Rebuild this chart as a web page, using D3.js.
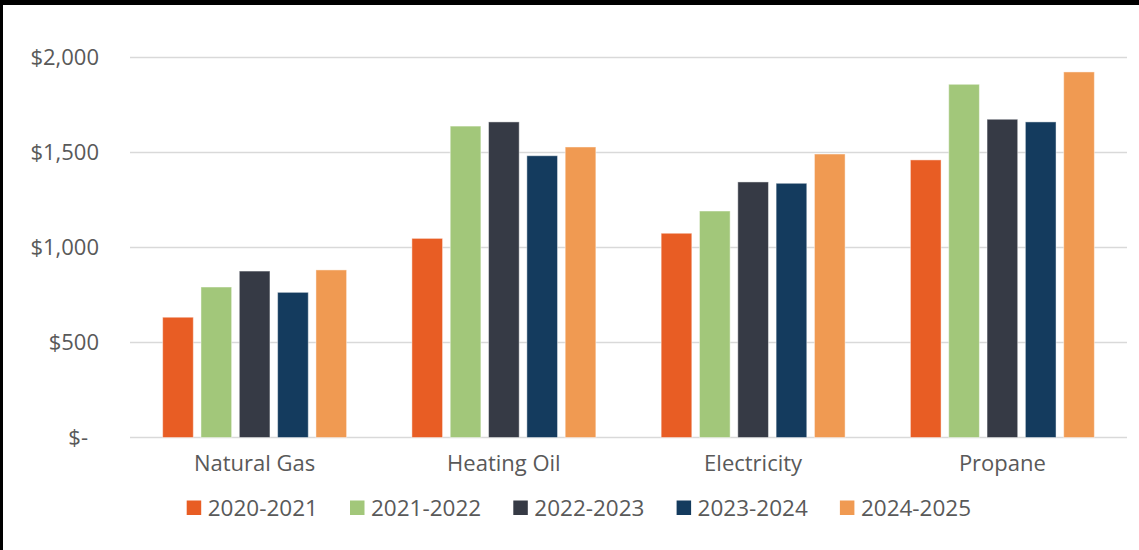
<!DOCTYPE html>
<html>
<head>
<meta charset="utf-8">
<script src="https://cdn.jsdelivr.net/npm/d3@7"></script>
<style>
  body { margin: 0; background: #fff; }
  svg { display: block; font-family: "Open Sans", sans-serif; }
</style>
</head>
<body>
<div id="chart"></div>
<script>
// data
const categories = ["Natural Gas", "Heating Oil", "Electricity", "Propane"];
const seasons = ["2020-2021", "2021-2022", "2022-2023", "2023-2024", "2024-2025"];
const colors = ["#E85D24", "#A2C77A", "#363A45", "#143B5E", "#F09A52"];
const s2020 = [633, 1048, 1075, 1461];
const s2021 = [792, 1639, 1192, 1859];
const s2022 = [876, 1661, 1345, 1675];
const s2023 = [764, 1483, 1338, 1661];
const s2024 = [882, 1529, 1492, 1924];
const yTicks = [0, 500, 1000, 1500, 2000];

const seriesValues = [s2020, s2021, s2022, s2023, s2024];

const width = 1139, height = 550;
const margin = { top: 57.5, right: 12, bottom: 112.5, left: 130 };
const plotW = width - margin.left - margin.right;
const plotH = height - margin.top - margin.bottom;

const svg = d3.select("#chart").append("svg")
    .attr("width", width)
    .attr("height", height);

// frame (top band + left edge)
svg.append("rect").attr("x", 0).attr("y", 0).attr("width", width).attr("height", 5).attr("fill", "#000");
svg.append("rect").attr("x", 0).attr("y", 0).attr("width", 3).attr("height", height).attr("fill", "#000");

const g = svg.append("g").attr("transform", `translate(${margin.left},${margin.top})`);

const x0 = d3.scaleBand().domain(categories).range([0, plotW]).paddingInner(0.262).paddingOuter(0.131);
const x1 = d3.scaleBand().domain(seasons).range([0, x0.bandwidth()]).paddingInner(0.2);
const y = d3.scaleLinear().domain([0, 2000]).range([plotH, 0]);

// gridlines
g.append("g").selectAll("line")
    .data(yTicks)
    .enter().append("line")
    .attr("x1", 0).attr("x2", plotW)
    .attr("y1", d => y(d)).attr("y2", d => y(d))
    .attr("stroke", "#d9d9d9")
    .attr("stroke-width", 1.5);

// y labels
const fmt = d => d === 0 ? "$-" : "$" + d3.format(",")(d);
g.append("g").selectAll("text")
    .data(yTicks)
    .enter().append("text")
    .attr("x", d => d === 0 ? -42 : -31)
    .attr("y", d => y(d))
    .attr("dy", "0.35em")
    .attr("text-anchor", "end")
    .attr("fill", "#595959")
    .attr("font-size", 22)
    .text(fmt);

// bars
const groups = g.append("g").selectAll("g")
    .data(categories)
    .enter().append("g")
    .attr("transform", d => `translate(${x0(d)},0)`);

groups.selectAll("rect")
    .data((c, ci) => seasons.map((s, si) => ({ s, si, v: seriesValues[si][ci] })))
    .enter().append("rect")
    .attr("x", d => x1(d.s))
    .attr("width", x1.bandwidth())
    .attr("y", d => y(d.v))
    .attr("height", d => y(0) - y(d.v))
    .attr("fill", d => colors[d.si])
    .attr("stroke", "#fff")
    .attr("stroke-opacity", 0.45)
    .attr("stroke-width", 1);

// category labels
g.append("g").selectAll("text")
    .data(categories)
    .enter().append("text")
    .attr("x", d => x0(d) + x0.bandwidth() / 2)
    .attr("y", plotH + 33.5)
    .attr("text-anchor", "middle")
    .attr("fill", "#595959")
    .attr("font-size", 22)
    .text(d => d);

// legend
const legend = svg.append("g").selectAll("g")
    .data(seasons)
    .enter().append("g")
    .attr("transform", (d, i) => `translate(${186.7 + i * 163.3},508)`);

legend.append("rect")
    .attr("x", 0).attr("y", -7.5)
    .attr("width", 14.5).attr("height", 14.5)
    .attr("fill", (d, i) => colors[i]);

legend.append("text")
    .attr("x", 21)
    .attr("y", 0)
    .attr("dy", "0.35em")
    .attr("fill", "#595959")
    .attr("font-size", 22.5)
    .text(d => d);
</script>
</body>
</html>
